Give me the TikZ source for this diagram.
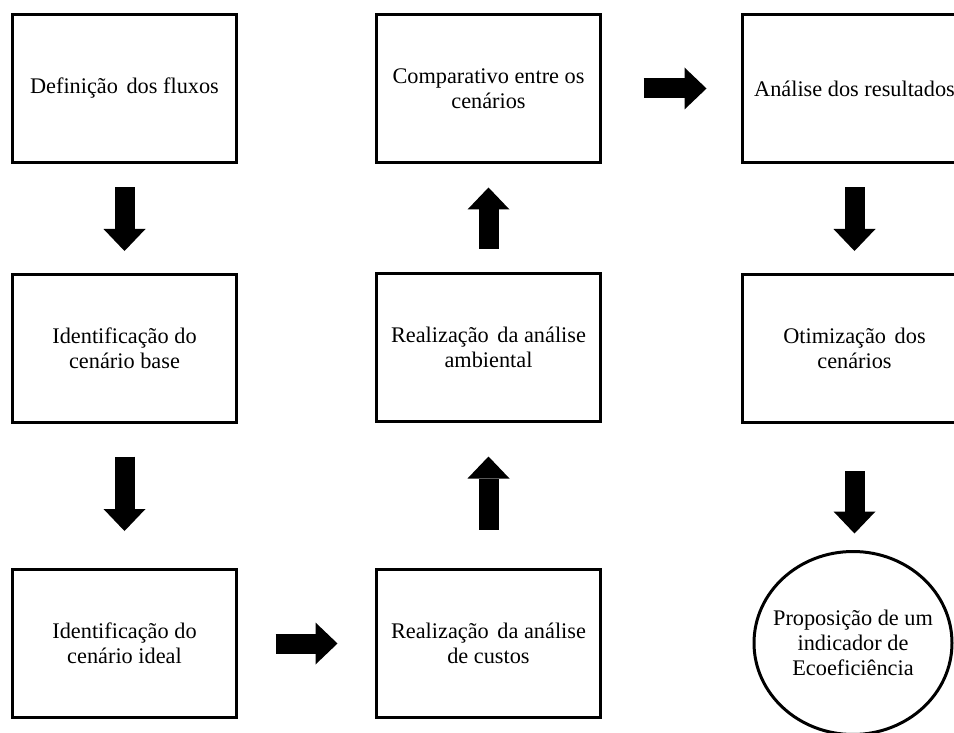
\documentclass[tikz,border=0pt]{standalone}
\usepackage{fontspec}
\setmainfont{Liberation Serif}
\usetikzlibrary{shapes.geometric,arrows.meta}

\begin{document}
\begin{tikzpicture}[x=1pt, y=-1pt,
  caixa/.style={draw, line width=3pt, minimum width=224pt, minimum height=148pt, inner sep=0pt, align=center, font=\fontsize{22.3pt}{25pt}\selectfont},
  seta/.style={line width=20pt, -{Triangle[width=42pt, length=22pt, line width=0pt]}}]
\useasboundingbox (0,0) rectangle (954,733);
% primeira coluna
\node[caixa] (fluxos) at (124.5,88.5) {Definição\hspace{3pt} dos fluxos};
\node[caixa] (base) at (124.5,348) {Identificação do\\cenário base};
\node[caixa] (ideal) at (124.5,643.5) {Identificação do\\cenário ideal};
% segunda coluna
\node[caixa] (comp) at (488.5,88.5) {Comparativo entre os\\cenários};
\node[caixa] (ambiental) at (488.5,347.5) {Realização\hspace{3pt} da análise\\ambiental};
\node[caixa] (custos) at (488.5,643.5) {Realização\hspace{3pt} da análise\\de custos};
% terceira coluna
\node[caixa] (resultados) at (854.5,88.5) {Análise dos resultados};
\node[caixa] (otimiz) at (854.5,348) {Otimização\hspace{3pt} dos\\cenários};
\node[draw, ellipse, line width=3pt, minimum width=198pt, minimum height=183pt, inner xsep=-12pt, inner ysep=0pt, align=center, font=\fontsize{22.3pt}{25pt}\selectfont] (indicador) at (853,643) {Proposição de um\\indicador de\\Ecoeficiência};
% setas
\draw[seta, shorten <=23.5pt, shorten >=21.5pt] (fluxos.south) -- (base.north);
\draw[seta, shorten <=33pt, shorten >=37pt] (base.south) -- (ideal.north);
\draw[seta, shorten <=37.5pt, shorten >=37.5pt] (ideal.east) -- (custos.west);
\draw[seta, shorten <=38.5pt, shorten >=33.5pt] (custos.north) -- (ambiental.south);
\draw[seta, shorten <=23.5pt, shorten >=23.5pt] (ambiental.north) -- (comp.south);
\draw[seta, shorten <=41.5pt, shorten >=34.5pt] (comp.east) -- (resultados.west);
\draw[seta, shorten <=23.5pt, shorten >=21.5pt] (resultados.south) -- (otimiz.north);
\draw[seta, shorten <=47.5pt, shorten >=16.5pt] (otimiz.south) -- (otimiz.south |- indicador.north);
\end{tikzpicture}
\end{document}
